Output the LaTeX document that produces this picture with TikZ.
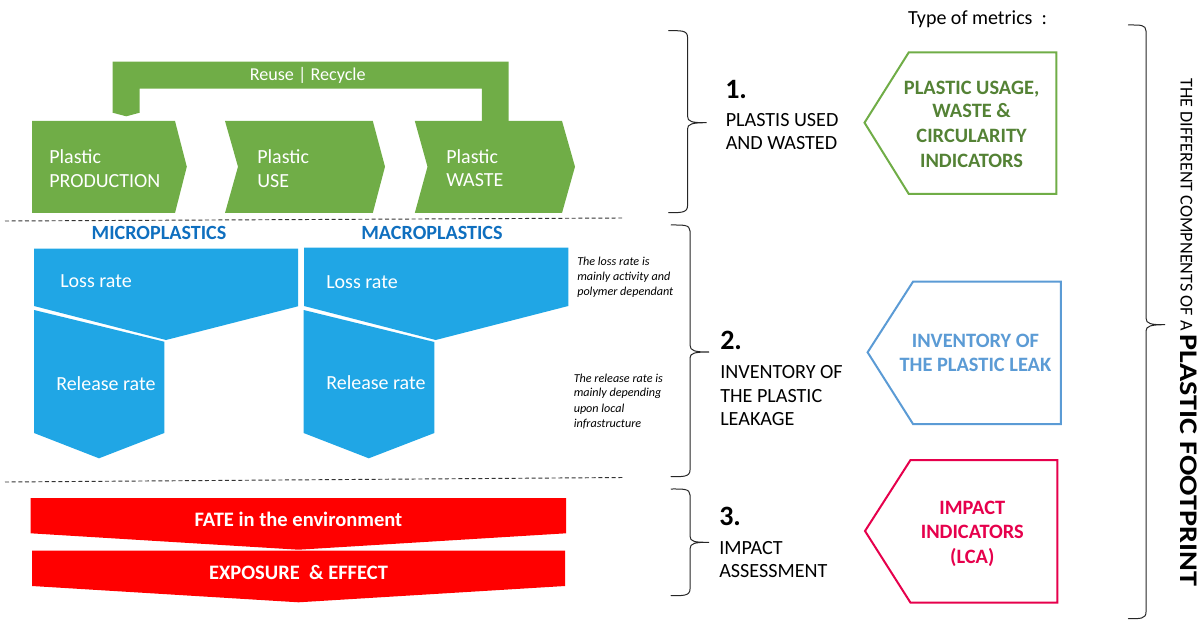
\documentclass[tikz,border=0pt]{standalone}
\usepackage{fontspec}
\setmainfont{Carlito}
\definecolor{fgreen}{HTML}{70AD47}
\definecolor{tgreen}{HTML}{548235}
\definecolor{fblue}{HTML}{20A6E5}
\definecolor{tblue}{HTML}{0F6FBF}
\definecolor{lblue}{HTML}{5B9BD5}
\definecolor{pinkred}{HTML}{E6004C}
\tikzset{
  lbl/.style={inner sep=0pt,text height=2.2ex,text depth=0.2ex},
  wtxt/.style={lbl,anchor=west,text=white,font=\fontsize{15}{17}\selectfont},
  wbold/.style={lbl,text=white,font=\fontsize{15.4}{17}\selectfont\bfseries},
  heading/.style={lbl,text=tblue,font=\fontsize{15.1}{17}\selectfont\bfseries},
  note/.style={lbl,anchor=west,font=\fontsize{9.1}{10}\selectfont\itshape},
  num/.style={lbl,anchor=west,font=\fontsize{21}{23}\selectfont\bfseries},
  item/.style={lbl,anchor=west,font=\fontsize{15.1}{17}\selectfont},
  metric/.style={lbl,font=\fontsize{15.3}{17}\selectfont\bfseries},
  sep/.style={densely dashed,line width=0.7pt,black!80},
  bracestroke/.style={line width=0.75pt,black!85,line cap=round},
  penta/.style={line width=1.5pt,fill=white,line join=miter}
}
\begin{document}
\begin{tikzpicture}[x=0.75pt,y=-0.75pt]
\useasboundingbox (0,0) rectangle (1198,620);
% green process
\fill[fgreen] (112.5,61.7) -- (508.6,61.7) -- (508.6,121) -- (481.8,121) -- (481.8,88.7) -- (139.7,88.7) -- (139.7,112.7) -- (126.3,116.3) -- (112.5,112.7) -- cycle;
\fill[fgreen] (32,121) -- (175,121) -- (186.8,166.7) -- (175,213) -- (32,213) -- cycle;
\fill[fgreen] (225,121) -- (372.8,121) -- (385,166.7) -- (372.8,213) -- (225,213) -- (238,166.7) -- cycle;
\fill[fgreen] (414.8,121) -- (562,121) -- (575,166.7) -- (562,213) -- (414.8,213) -- (427.5,166.7) -- cycle;
\node[lbl,text=white,font=\fontsize{13.6}{15}\selectfont] (reuse) at (307.7,74.5) {Reuse | Recycle};
\node[wtxt] (p1a) at (49,157) {Plastic};
\node[wtxt] (p1b) at (49,181) {PRODUCTION};
\node[wtxt] (p2a) at (257,157) {Plastic};
\node[wtxt] (p2b) at (257,181) {USE};
\node[wtxt] (p3a) at (446,157) {Plastic};
\node[wtxt] (p3b) at (446,180) {WASTE};
% separators
\draw[sep] (5,221) -- (622,218);
\draw[sep] (5,482) -- (624,477.5);
% blue
\node[heading] (micro) at (159,233.5) {MICROPLASTICS};
\node[heading] (macro) at (432,233.5) {MACROPLASTICS};
\fill[fblue] (34,248.7) -- (298,248.7) -- (298,306.3) -- (166,340) -- (34,306) -- cycle;
\fill[fblue] (304,247.7) -- (568.3,247.7) -- (568.3,306) -- (435.7,340) -- (304,306) -- cycle;
\fill[fblue] (34,310) -- (164.3,341.7) -- (164.3,433) -- (99,458.3) -- (34,433) -- cycle;
\fill[fblue] (303.6,310) -- (434.4,342) -- (434.4,433) -- (368.8,458.3) -- (303.6,433) -- cycle;
\node[wtxt] (l1) at (60,281) {Loss rate};
\node[wtxt] (l2) at (326,282) {Loss rate};
\node[wtxt] (r1) at (56,384) {Release rate};
\node[wtxt] (r2) at (326,383) {Release rate};
\node[note] (n1) at (577,259) {The loss rate is};
\node[note] (n2) at (577,274) {mainly activity and};
\node[note] (n3) at (577,289) {polymer dependant};
\node[note] (n4) at (573.5,376) {The release rate is};
\node[note] (n5) at (573.5,390.5) {mainly depending};
\node[note] (n6) at (573.5,406) {upon local};
\node[note] (n7) at (573.5,421) {infrastructure};
% red
\fill[red] (30.6,498) -- (566,498) -- (566,533.3) -- (298.5,549.7) -- (30.6,533.3) -- cycle;
\fill[red] (32,550.7) -- (565,550.7) -- (565,586) -- (298.5,602.3) -- (32,586) -- cycle;
\node[wbold] (fate) at (298.5,520) {FATE in the environment};
\node[wbold] (expo) at (298.5,573) {EXPOSURE\ \ \& EFFECT};
% braces
\draw[bracestroke] (668.6,30.7) .. controls (680,30.7) and (687.5,30) .. (687.5,37) -- (687.5,116) .. controls (687.5,122) and (692,122.7) .. (706.7,122.7) .. controls (692,122.7) and (687.5,124) .. (687.5,129) -- (687.5,206) .. controls (687.5,213) and (680,212.7) .. (668.6,212.7);
\draw[bracestroke] (671,225) .. controls (683,225) and (690,224.5) .. (690,231) -- (690,345) .. controls (690,351) and (695,352) .. (709,352) .. controls (695,352) and (690,353) .. (690,358) -- (690,470) .. controls (690,477) and (683,476.7) .. (671,476.7);
\draw[bracestroke] (671,489) .. controls (683,489) and (690,488.5) .. (690,495) -- (690,536) .. controls (690,542) and (695,542.3) .. (709,542.3) .. controls (695,542.3) and (690,543) .. (690,549) -- (690,589) .. controls (690,596) and (683,595.7) .. (671,595.7);
\draw[bracestroke] (1128.4,25) .. controls (1140,25) and (1146,24.5) .. (1146,31) -- (1146,318) .. controls (1146,324) and (1151,324.7) .. (1165,324.7) .. controls (1151,324.7) and (1146,326) .. (1146,331) -- (1146,612) .. controls (1146,619) and (1140,618.7) .. (1128.4,618.7);
% section labels
\node[num] (s1) at (725,92) {1.};
\node[item] (s1a) at (725.5,120.5) {PLASTIS USED};
\node[item] (s1b) at (725.5,143.5) {AND WASTED};
\node[num] (s2) at (720,342.7) {2.};
\node[item] (s2a) at (720,371.7) {INVENTORY OF};
\node[item] (s2b) at (720,396) {THE PLASTIC};
\node[item] (s2c) at (720,419.5) {LEAKAGE};
\node[num] (s3) at (719,518.7) {3.};
\node[item] (s3a) at (719,547.7) {IMPACT};
\node[item] (s3b) at (719,571.5) {ASSESSMENT};
% metrics
\node[lbl,font=\fontsize{15}{17}\selectfont] (type) at (977.5,18) {Type of metrics\ \ :};
\draw[penta,draw=fgreen] (864.5,122.7) -- (908.8,52.3) -- (1056.4,52.3) -- (1056.4,194) -- (908.8,194) -- cycle;
\draw[penta,draw=lblue] (867.6,352.3) -- (913,281.7) -- (1060.8,281.7) -- (1060.8,424) -- (913,424) -- cycle;
\draw[penta,draw=pinkred] (865,531) -- (910.5,460) -- (1057.4,460) -- (1057.4,602.7) -- (910.5,602.7) -- cycle;
\node[metric,text=tgreen] (g1) at (971.6,88) {PLASTIC USAGE,};
\node[metric,text=tgreen] (g2) at (971.6,111) {WASTE \&};
\node[metric,text=tgreen] (g3) at (971.6,136) {CIRCULARITY};
\node[metric,text=tgreen] (g4) at (971.6,161) {INDICATORS};
\node[metric,text=lblue] (b1) at (975.4,340.7) {INVENTORY OF};
\node[metric,text=lblue] (b2) at (975.4,364.7) {THE PLASTIC LEAK};
\node[metric,text=pinkred] (m1) at (972.3,507.7) {IMPACT};
\node[metric,text=pinkred] (m2) at (972.3,532) {INDICATORS};
\node[metric,text=pinkred] (m3) at (972.3,557) {(LCA)};
% side title
\node[inner sep=0pt,rotate=-90,anchor=base west,font=\fontsize{13.6}{15}\selectfont] (side) at (1180.5,78) {THE DIFFERENT COMPNENTS OF A \scalebox{1.19}[1]{\fontsize{19}{21}\selectfont\bfseries PLASTIC FOOTPRINT}};
\end{tikzpicture}
\end{document}
